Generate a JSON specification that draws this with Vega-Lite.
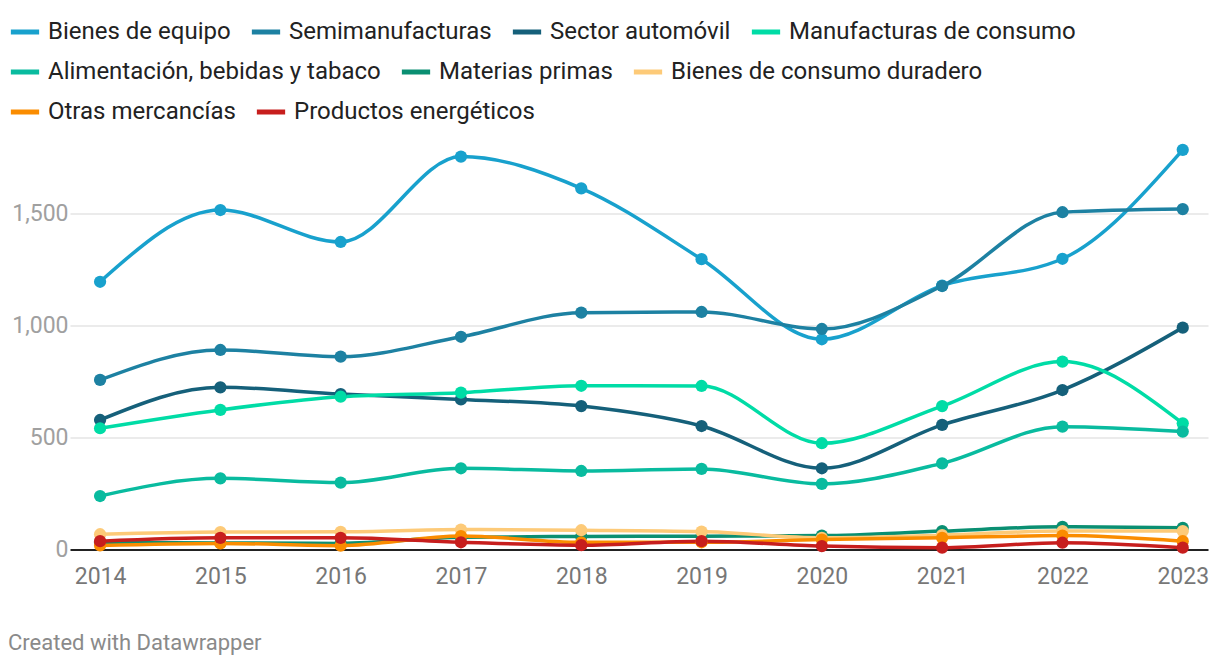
{
  "$schema": "https://vega.github.io/schema/vega-lite/v6.json",
  "width": 1138,
  "height": 402.5,
  "autosize": {"type": "none"},
  "padding": {"left": 70, "top": 146.5, "right": 12, "bottom": 117},
  "background": "white",
  "title": {
    "text": "Created with Datawrapper",
    "orient": "bottom",
    "anchor": "start",
    "frame": "bounds",
    "font": "Roboto",
    "fontSize": 22,
    "fontWeight": "normal",
    "color": "#8a8a8a",
    "offset": 45
  },
  "data": {
    "values": [
      {"year": 2014, "serie": "Bienes de equipo", "value": 1195},
      {"year": 2015, "serie": "Bienes de equipo", "value": 1516},
      {"year": 2016, "serie": "Bienes de equipo", "value": 1373},
      {"year": 2017, "serie": "Bienes de equipo", "value": 1755},
      {"year": 2018, "serie": "Bienes de equipo", "value": 1613},
      {"year": 2019, "serie": "Bienes de equipo", "value": 1296},
      {"year": 2020, "serie": "Bienes de equipo", "value": 938},
      {"year": 2021, "serie": "Bienes de equipo", "value": 1178},
      {"year": 2022, "serie": "Bienes de equipo", "value": 1298},
      {"year": 2023, "serie": "Bienes de equipo", "value": 1785},
      {"year": 2014, "serie": "Semimanufacturas", "value": 756},
      {"year": 2015, "serie": "Semimanufacturas", "value": 890},
      {"year": 2016, "serie": "Semimanufacturas", "value": 860},
      {"year": 2017, "serie": "Semimanufacturas", "value": 949},
      {"year": 2018, "serie": "Semimanufacturas", "value": 1057},
      {"year": 2019, "serie": "Semimanufacturas", "value": 1060},
      {"year": 2020, "serie": "Semimanufacturas", "value": 984},
      {"year": 2021, "serie": "Semimanufacturas", "value": 1176},
      {"year": 2022, "serie": "Semimanufacturas", "value": 1506},
      {"year": 2023, "serie": "Semimanufacturas", "value": 1520},
      {"year": 2014, "serie": "Sector automóvil", "value": 577},
      {"year": 2015, "serie": "Sector automóvil", "value": 723},
      {"year": 2016, "serie": "Sector automóvil", "value": 693},
      {"year": 2017, "serie": "Sector automóvil", "value": 669},
      {"year": 2018, "serie": "Sector automóvil", "value": 639},
      {"year": 2019, "serie": "Sector automóvil", "value": 550},
      {"year": 2020, "serie": "Sector automóvil", "value": 361},
      {"year": 2021, "serie": "Sector automóvil", "value": 555},
      {"year": 2022, "serie": "Sector automóvil", "value": 711},
      {"year": 2023, "serie": "Sector automóvil", "value": 990},
      {"year": 2014, "serie": "Manufacturas de consumo", "value": 540},
      {"year": 2015, "serie": "Manufacturas de consumo", "value": 622},
      {"year": 2016, "serie": "Manufacturas de consumo", "value": 681},
      {"year": 2017, "serie": "Manufacturas de consumo", "value": 699},
      {"year": 2018, "serie": "Manufacturas de consumo", "value": 730},
      {"year": 2019, "serie": "Manufacturas de consumo", "value": 729},
      {"year": 2020, "serie": "Manufacturas de consumo", "value": 473},
      {"year": 2021, "serie": "Manufacturas de consumo", "value": 639},
      {"year": 2022, "serie": "Manufacturas de consumo", "value": 838},
      {"year": 2023, "serie": "Manufacturas de consumo", "value": 562},
      {"year": 2014, "serie": "Alimentación, bebidas y tabaco", "value": 237},
      {"year": 2015, "serie": "Alimentación, bebidas y tabaco", "value": 316},
      {"year": 2016, "serie": "Alimentación, bebidas y tabaco", "value": 297},
      {"year": 2017, "serie": "Alimentación, bebidas y tabaco", "value": 361},
      {"year": 2018, "serie": "Alimentación, bebidas y tabaco", "value": 349},
      {"year": 2019, "serie": "Alimentación, bebidas y tabaco", "value": 358},
      {"year": 2020, "serie": "Alimentación, bebidas y tabaco", "value": 291},
      {"year": 2021, "serie": "Alimentación, bebidas y tabaco", "value": 383},
      {"year": 2022, "serie": "Alimentación, bebidas y tabaco", "value": 547},
      {"year": 2023, "serie": "Alimentación, bebidas y tabaco", "value": 525},
      {"year": 2014, "serie": "Materias primas", "value": 30},
      {"year": 2015, "serie": "Materias primas", "value": 27},
      {"year": 2016, "serie": "Materias primas", "value": 25},
      {"year": 2017, "serie": "Materias primas", "value": 52},
      {"year": 2018, "serie": "Materias primas", "value": 56},
      {"year": 2019, "serie": "Materias primas", "value": 57},
      {"year": 2020, "serie": "Materias primas", "value": 60},
      {"year": 2021, "serie": "Materias primas", "value": 80},
      {"year": 2022, "serie": "Materias primas", "value": 99},
      {"year": 2023, "serie": "Materias primas", "value": 95},
      {"year": 2014, "serie": "Bienes de consumo duradero", "value": 66},
      {"year": 2015, "serie": "Bienes de consumo duradero", "value": 76},
      {"year": 2016, "serie": "Bienes de consumo duradero", "value": 77},
      {"year": 2017, "serie": "Bienes de consumo duradero", "value": 87},
      {"year": 2018, "serie": "Bienes de consumo duradero", "value": 84},
      {"year": 2019, "serie": "Bienes de consumo duradero", "value": 78},
      {"year": 2020, "serie": "Bienes de consumo duradero", "value": 50},
      {"year": 2021, "serie": "Bienes de consumo duradero", "value": 62},
      {"year": 2022, "serie": "Bienes de consumo duradero", "value": 80},
      {"year": 2023, "serie": "Bienes de consumo duradero", "value": 80},
      {"year": 2014, "serie": "Otras mercancías", "value": 16},
      {"year": 2015, "serie": "Otras mercancías", "value": 25},
      {"year": 2016, "serie": "Otras mercancías", "value": 15},
      {"year": 2017, "serie": "Otras mercancías", "value": 58},
      {"year": 2018, "serie": "Otras mercancías", "value": 30},
      {"year": 2019, "serie": "Otras mercancías", "value": 30},
      {"year": 2020, "serie": "Otras mercancías", "value": 42},
      {"year": 2021, "serie": "Otras mercancías", "value": 50},
      {"year": 2022, "serie": "Otras mercancías", "value": 60},
      {"year": 2023, "serie": "Otras mercancías", "value": 35},
      {"year": 2014, "serie": "Productos energéticos", "value": 35},
      {"year": 2015, "serie": "Productos energéticos", "value": 50},
      {"year": 2016, "serie": "Productos energéticos", "value": 50},
      {"year": 2017, "serie": "Productos energéticos", "value": 30},
      {"year": 2018, "serie": "Productos energéticos", "value": 17},
      {"year": 2019, "serie": "Productos energéticos", "value": 35},
      {"year": 2020, "serie": "Productos energéticos", "value": 13},
      {"year": 2021, "serie": "Productos energéticos", "value": 6},
      {"year": 2022, "serie": "Productos energéticos", "value": 28},
      {"year": 2023, "serie": "Productos energéticos", "value": 6}
    ]
  },
  "encoding": {
    "x": {
      "field": "year",
      "type": "quantitative",
      "scale": {"domain": [2013.75, 2023.21], "nice": false, "zero": false},
      "axis": {
        "title": null,
        "values": [2014, 2015, 2016, 2017, 2018, 2019, 2020, 2021, 2022, 2023],
        "format": "d",
        "grid": false,
        "domain": false,
        "ticks": false,
        "labelFont": "Roboto",
        "labelFontSize": 23,
        "labelColor": "#777777",
        "labelPadding": 16,
        "labelFlush": false
      }
    },
    "y": {
      "field": "value",
      "type": "quantitative",
      "scale": {"domain": [0, 1800], "nice": false},
      "axis": {
        "title": null,
        "values": [0, 500, 1000, 1500],
        "format": ",d",
        "domain": false,
        "ticks": false,
        "grid": true,
        "gridColor": {"condition": {"test": "datum.value === 0", "value": "#222222"}, "value": "#e5e5e5"},
        "gridWidth": {"condition": {"test": "datum.value === 0", "value": 2}, "value": 1.5},
        "labelFont": "Roboto",
        "labelFontSize": 23,
        "labelColor": "#a0a0a0",
        "labelPadding": 2
      }
    }
  },
  "layer": [
    {
      "transform": [{"filter": {"field": "serie", "oneOf": ["Bienes de equipo", "Semimanufacturas", "Sector automóvil", "Manufacturas de consumo"]}}],
      "encoding": {
        "color": {
          "field": "serie",
          "type": "nominal",
          "scale": {
            "domain": ["Bienes de equipo", "Semimanufacturas", "Sector automóvil", "Manufacturas de consumo"],
            "range": ["#18a1cd", "#1d81a2", "#15607a", "#00dca6"]
          },
          "legend": {"symbolType": "stroke", "orient": "none", "legendX": -62, "legendY": -131.5}
        }
      },
      "layer": [
        {"mark": {"type": "line", "interpolate": "monotone", "strokeWidth": 3.5}},
        {"mark": {"type": "circle", "size": 150, "opacity": 1}}
      ]
    },
    {
      "transform": [{"filter": {"field": "serie", "oneOf": ["Alimentación, bebidas y tabaco", "Materias primas", "Bienes de consumo duradero"]}}],
      "encoding": {
        "color": {
          "field": "serie",
          "type": "nominal",
          "scale": {
            "domain": ["Alimentación, bebidas y tabaco", "Materias primas", "Bienes de consumo duradero"],
            "range": ["#09bb9f", "#0a8f72", "#fdca78"]
          },
          "legend": {"symbolType": "stroke", "orient": "none", "legendX": -62, "legendY": -91.5}
        }
      },
      "layer": [
        {"mark": {"type": "line", "interpolate": "monotone", "strokeWidth": 3.5}},
        {"mark": {"type": "circle", "size": 150, "opacity": 1}}
      ]
    },
    {
      "transform": [{"filter": {"field": "serie", "oneOf": ["Otras mercancías", "Productos energéticos"]}}],
      "encoding": {
        "color": {
          "field": "serie",
          "type": "nominal",
          "scale": {
            "domain": ["Otras mercancías", "Productos energéticos"],
            "range": ["#fa8c00", "#c71e1d"]
          },
          "legend": {"symbolType": "stroke", "orient": "none", "legendX": -62, "legendY": -51.5}
        }
      },
      "layer": [
        {"mark": {"type": "line", "interpolate": "monotone", "strokeWidth": 3.5}},
        {"mark": {"type": "circle", "size": 150, "opacity": 1}}
      ]
    }
  ],
  "resolve": {"scale": {"color": "independent"}, "legend": {"color": "independent"}},
  "config": {
    "view": {"stroke": null},
    "legend": {
      "direction": "horizontal",
      "title": null,
      "labelFont": "Roboto",
      "labelFontSize": 24,
      "labelColor": "#222222",
      "labelLimit": 0,
      "labelOffset": 6,
      "symbolSize": 800,
      "symbolStrokeWidth": 5,
      "columnPadding": 10,
      "padding": 0
    }
  }
}
